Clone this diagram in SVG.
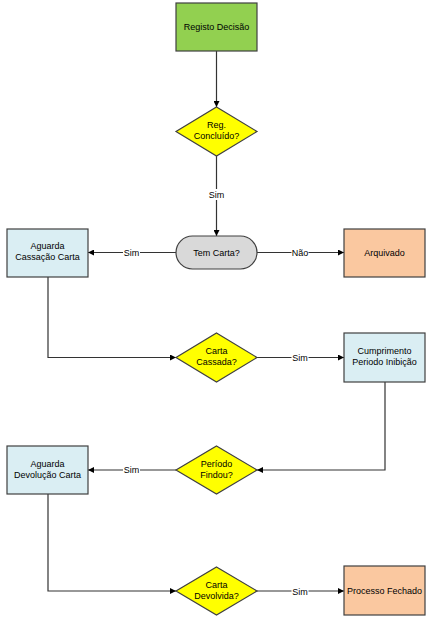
<svg xmlns="http://www.w3.org/2000/svg" width="430" height="619" viewBox="0 0 430 619">
<style>
text{font-family:"Liberation Sans",Arial,sans-serif;font-size:9px;fill:#000;text-anchor:middle}
.n{stroke:#404040;stroke-width:1.2}
.c{fill:none;stroke:#333;stroke-width:1.2}
.lb{fill:#fff}
</style>
<defs>
<marker id="ah" viewBox="0 0 10 10" refX="10" refY="5" markerWidth="6" markerHeight="6" markerUnits="userSpaceOnUse" orient="auto">
<path d="M0,0 L10,5 L0,10 z" fill="#000"/>
</marker>
</defs>
<rect width="430" height="619" fill="#fff"/>
<g id="connectors">
<path class="c" d="M216.5,51 V107" marker-end="url(#ah)"/>
<path class="c" d="M216.5,156 V236" marker-end="url(#ah)"/>
<path class="c" d="M176,252.5 H88" marker-end="url(#ah)"/>
<path class="c" d="M257,252.5 H344" marker-end="url(#ah)"/>
<path class="c" d="M48,277 V357.5 H176" marker-end="url(#ah)"/>
<path class="c" d="M257,357.5 H344" marker-end="url(#ah)"/>
<path class="c" d="M385,382 V470 H257" marker-end="url(#ah)"/>
<path class="c" d="M176,470 H88" marker-end="url(#ah)"/>
<path class="c" d="M48,494 V591 H176" marker-end="url(#ah)"/>
<path class="c" d="M257,591 H344" marker-end="url(#ah)"/>
<rect class="lb" x="208" y="189" width="17" height="11"/>
<text x="216.5" y="198">Sim</text>
<rect class="lb" x="123" y="247" width="17" height="11"/>
<text x="131.5" y="256">Sim</text>
<rect class="lb" x="291.5" y="247" width="17" height="11"/>
<text x="300" y="256">Não</text>
<rect class="lb" x="291.5" y="352" width="17" height="11"/>
<text x="300" y="361">Sim</text>
<rect class="lb" x="123" y="464" width="17" height="11"/>
<text x="131.5" y="473">Sim</text>
<rect class="lb" x="291.5" y="586" width="17" height="11"/>
<text x="300" y="595">Sim</text>
</g>
<g id="registo">
<rect class="n" x="176" y="3" width="81" height="48" fill="#92D050"/>
<text x="216.5" y="30">Registo Decisão</text>
</g>
<g id="reg-concluido">
<polygon class="n" points="216.5,107 257,131.5 216.5,156 176,131.5" fill="#FFFF00"/>
<text x="216.5" y="128">Reg.</text>
<text x="216.5" y="139">Concluído?</text>
</g>
<g id="tem-carta">
<rect class="n" x="176" y="236" width="81" height="33" rx="16.5" fill="#D9D9D9"/>
<text x="216.5" y="256">Tem Carta?</text>
</g>
<g id="aguarda-cassacao">
<rect class="n" x="7" y="229" width="81" height="48" fill="#DAEEF3"/>
<text x="47.5" y="249">Aguarda</text>
<text x="47.5" y="260">Cassação Carta</text>
</g>
<g id="arquivado">
<rect class="n" x="344" y="229" width="81" height="48" fill="#FAC8A0"/>
<text x="384.5" y="256">Arquivado</text>
</g>
<g id="carta-cassada">
<polygon class="n" points="216.5,333 257,357.5 216.5,382 176,357.5" fill="#FFFF00"/>
<text x="216.5" y="354">Carta</text>
<text x="216.5" y="365">Cassada?</text>
</g>
<g id="cumprimento">
<rect class="n" x="344" y="333" width="81" height="49" fill="#DAEEF3"/>
<text x="384.5" y="354">Cumprimento</text>
<text x="384.5" y="365">Periodo Inibição</text>
</g>
<g id="periodo-findou">
<polygon class="n" points="216.5,446 257,470 216.5,494 176,470" fill="#FFFF00"/>
<text x="216.5" y="467">Período</text>
<text x="216.5" y="478">Findou?</text>
</g>
<g id="aguarda-devolucao">
<rect class="n" x="7" y="446" width="81" height="48" fill="#DAEEF3"/>
<text x="47.5" y="467">Aguarda</text>
<text x="47.5" y="478">Devolução Carta</text>
</g>
<g id="carta-devolvida">
<polygon class="n" points="216.5,567 257,591 216.5,615 176,591" fill="#FFFF00"/>
<text x="216.5" y="588">Carta</text>
<text x="216.5" y="599">Devolvida?</text>
</g>
<g id="processo-fechado">
<rect class="n" x="344" y="566" width="81" height="49" fill="#FAC8A0"/>
<text x="384.5" y="594">Processo Fechado</text>
</g>
</svg>
